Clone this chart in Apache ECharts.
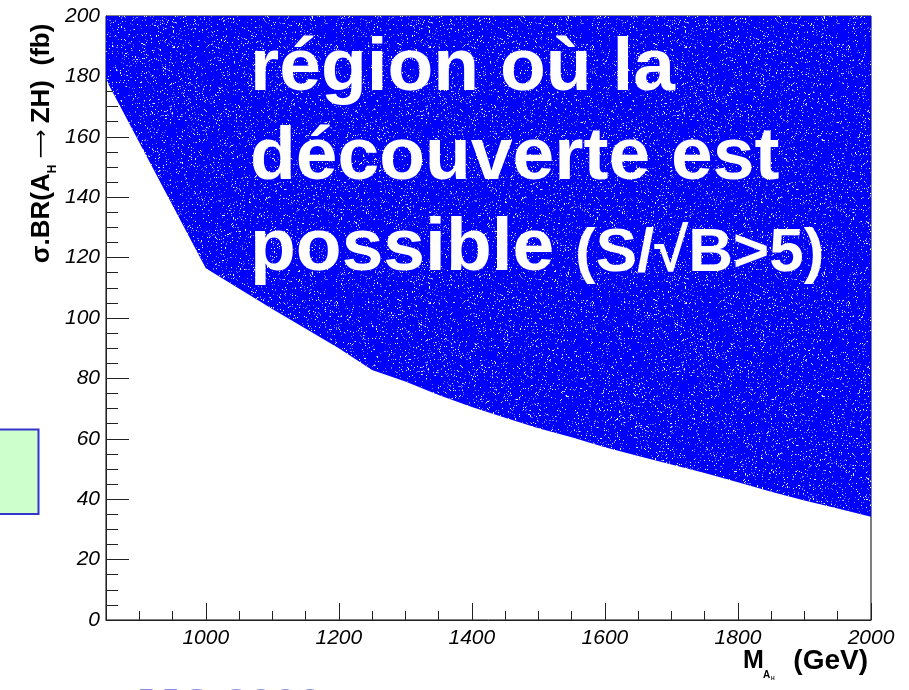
<!DOCTYPE html>
<html>
<head>
<meta charset="utf-8">
<script src="https://cdn.jsdelivr.net/npm/echarts@6/dist/echarts.min.js"></script>
<style>
  html, body { margin: 0; padding: 0; background: #ffffff; }
  #chart { width: 909px; height: 690px; }
</style>
</head>
<body>
<div id="chart"></div>
<script>
// Discovery boundary: sigma x BR(A_H -> ZH) needed for S/sqrt(B) > 5, versus M_AH
const massGeV   = [850, 1000, 1100, 1200, 1250, 1300, 1350, 1400, 1450, 1500, 1550, 1600, 1650, 1700, 1750, 1800, 1850, 1900, 1950, 2000];
const sigmaBRfb = [179, 116.5, 103, 90, 82.8, 79, 74.5, 70.5, 67, 63.5, 60.5, 57.2, 54.3, 51.5, 48.7, 45.6, 42.5, 39.6, 36.9, 34.2];

// Axis ranges and labelled ticks
const xRange = [850, 2000];
const yRange = [0, 200];
const xMajorTicks = [1000, 1200, 1400, 1600, 1800, 2000];
const yMajorTicks = [0, 20, 40, 60, 80, 100, 120, 140, 160, 180, 200];

const FONT = '"Liberation Sans", Arial, Helvetica, sans-serif';

// Fixed speckle texture for the shaded region (integer hash, same every render)
function hash32(n) {
  n = Math.imul(n ^ (n >>> 16), 0x45d9f3b);
  n = Math.imul(n ^ (n >>> 16), 0x45d9f3b);
  return ((n ^ (n >>> 16)) >>> 0) / 4294967296;
}
function speckleTile(size) {
  const c = document.createElement('canvas');
  c.width = c.height = size;
  const ctx = c.getContext('2d');
  ctx.fillStyle = '#0000ff';
  ctx.fillRect(0, 0, size, size);
  const img = ctx.getImageData(0, 0, size, size);
  for (let i = 0; i < size * size; i++) {
    const r = hash32(i * 2654435761 + 12345);
    let v = -1;
    if (r < 0.03) v = 235;
    else if (r < 0.075) v = 120;
    if (v >= 0) {
      img.data[i * 4] = v;
      img.data[i * 4 + 1] = v;
      img.data[i * 4 + 2] = 255;
    }
  }
  ctx.putImageData(img, 0, 0);
  return c;
}

const chart = echarts.init(document.getElementById('chart'), null, { renderer: 'canvas' });

const tickLine = { color: '#222', width: 1 };

function boldText(text, x, y, size, align) {
  return {
    type: 'text', z: 50, x: x, y: y,
    style: {
      text: text, fill: '#000', fontFamily: FONT, fontWeight: 'bold',
      fontSize: size, align: align || 'left', verticalAlign: 'middle'
    }
  };
}

const option = {
  animation: false,
  backgroundColor: '#ffffff',
  grid: {
    left: 106, right: 38, top: 16, bottom: 70,
    show: true, borderColor: '#000', borderWidth: 1, backgroundColor: 'transparent'
  },
  xAxis: [
    {
      type: 'value', position: 'bottom',
      min: xRange[0], max: xRange[1], interval: 50,
      axisLine: { show: true, onZero: false, lineStyle: tickLine },
      axisTick: { show: true, inside: true, length: 9, lineStyle: tickLine },
      axisLabel: {
        show: true, margin: 8, color: '#000',
        fontFamily: FONT, fontStyle: 'italic', fontSize: 21,
        formatter: v => (xMajorTicks.indexOf(v) >= 0 ? String(v) : '')
      },
      splitLine: { show: false }
    },
    {
      type: 'value', position: 'bottom', offset: 0,
      min: xRange[0], max: xRange[1],
      axisLine: { show: false },
      axisTick: { show: true, inside: true, length: 17, lineStyle: tickLine, customValues: xMajorTicks },
      axisLabel: { show: false },
      splitLine: { show: false }
    }
  ],
  yAxis: {
    type: 'value',
    min: yRange[0], max: yRange[1], interval: 20,
    axisLine: { show: true, onZero: false, lineStyle: tickLine },
    axisTick: { show: true, inside: true, length: 23, lineStyle: tickLine },
    minorTick: { show: true, splitNumber: 4, length: 12, lineStyle: tickLine },
    axisLabel: {
      show: true, margin: 6, color: '#000',
      fontFamily: FONT, fontStyle: 'italic', fontSize: 21,
      customValues: yMajorTicks
    },
    splitLine: { show: false }
  },
  series: [
    {
      type: 'line',
      xAxisIndex: 0, yAxisIndex: 0,
      data: massGeV.map((m, i) => [m, sigmaBRfb[i]]),
      showSymbol: false,
      silent: true,
      lineStyle: { width: 0 },
      areaStyle: {
        origin: 'end',
        opacity: 1,
        color: { image: speckleTile(256), repeat: 'repeat' }
      },
      z: 2
    }
  ],
  graphic: [
    // small box at the left margin
    {
      type: 'rect', z: 50,
      shape: { x: -3, y: 429.5, width: 41.5, height: 84.5 },
      style: { fill: '#ccffcc', stroke: '#3535cc', lineWidth: 2 }
    },
    // y-axis title, reading upwards; the subscript is pushed below the baseline by top padding
    {
      type: 'text', z: 50,
      x: 42, y: 143.5, rotation: Math.PI / 2,
      style: {
        text: '{m|σ.BR(A}{s|H}{a| ⟶ }{m|ZH)  (fb)}',
        align: 'center', verticalAlign: 'middle',
        rich: {
          m: { fontFamily: FONT, fontWeight: 'bold', fontSize: 26, verticalAlign: 'middle', fill: '#000' },
          a: { fontFamily: '"DejaVu Sans", sans-serif', fontWeight: 'normal', fontSize: 20, verticalAlign: 'middle', fill: '#000' },
          s: { fontFamily: FONT, fontWeight: 'bold', fontSize: 12, verticalAlign: 'middle', padding: [22, 0, 0, 0], fill: '#000' }
        }
      }
    },
    // x-axis title: M with subscript A_H, then unit
    boldText('M', 743, 661, 25),
    boldText('A', 763, 675, 10),
    boldText('H', 771, 679, 5),
    boldText('(GeV)', 868, 661, 28, 'right'),
    // annotation inside the discovery region
    {
      type: 'text', z: 100, x: 250, y: 69.5,
      style: { text: 'région où la', fill: '#fff', fontFamily: FONT, fontWeight: 'bold', fontSize: 75, verticalAlign: 'middle' }
    },
    {
      type: 'text', z: 100, x: 250, y: 158.5,
      style: { text: 'découverte est', fill: '#fff', fontFamily: FONT, fontWeight: 'bold', fontSize: 75, verticalAlign: 'middle' }
    },
    {
      type: 'text', z: 100, x: 250, y: 249.5,
      style: { text: 'possible', fill: '#fff', fontFamily: FONT, fontWeight: 'bold', fontSize: 75, verticalAlign: 'middle' }
    },
    {
      type: 'text', z: 100, x: 575, y: 254,
      style: { text: '(S/√B>5)', fill: '#fff', fontFamily: FONT, fontWeight: 'bold', fontSize: 62, verticalAlign: 'middle' }
    },
    // footer line at the page bottom
    {
      type: 'text', z: 50, x: 131, y: 685.5,
      style: { text: 'JJC 2006', fill: '#8c8ce6', fontFamily: FONT, fontWeight: 'bold', fontSize: 44, verticalAlign: 'top' }
    }
  ]
};

chart.setOption(option);
</script>
</body>
</html>
